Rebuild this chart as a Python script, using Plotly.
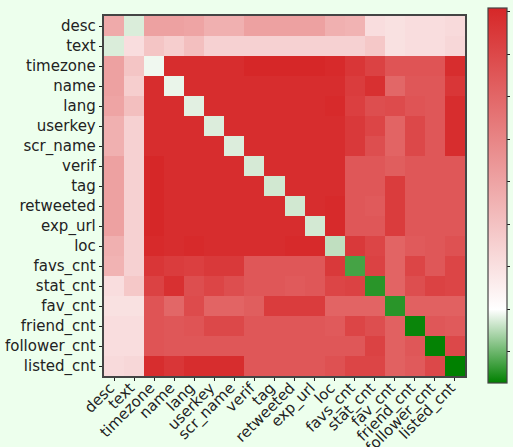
import plotly.graph_objects as go

# Feature names, shared by both axes
features = [
    "desc", "text", "timezone", "name", "lang", "userkey", "scr_name",
    "verif", "tag", "retweeted", "exp_url", "loc", "favs_cnt", "stat_cnt",
    "fav_cnt", "friend_cnt", "follower_cnt", "listed_cnt",
]

# Pairwise score matrix (row = y feature, column = x feature)
scores = [
    [0.48, 0.175, 0.51, 0.51, 0.50, 0.46, 0.46, 0.51, 0.51, 0.51, 0.51, 0.46, 0.45, 0.31, 0.30, 0.31, 0.31, 0.32],
    [0.175, 0.31, 0.39, 0.36, 0.41, 0.35, 0.35, 0.35, 0.35, 0.35, 0.35, 0.35, 0.35, 0.38, 0.30, 0.31, 0.31, 0.33],
    [0.51, 0.39, 0.19, 0.89, 0.89, 0.89, 0.89, 0.91, 0.91, 0.91, 0.91, 0.90, 0.86, 0.82, 0.76, 0.76, 0.76, 0.89],
    [0.51, 0.36, 0.89, 0.186, 0.89, 0.89, 0.89, 0.89, 0.89, 0.89, 0.89, 0.89, 0.84, 0.88, 0.70, 0.75, 0.75, 0.86],
    [0.50, 0.41, 0.89, 0.89, 0.18, 0.89, 0.89, 0.89, 0.89, 0.89, 0.89, 0.90, 0.83, 0.78, 0.79, 0.76, 0.75, 0.89],
    [0.46, 0.35, 0.89, 0.89, 0.89, 0.176, 0.89, 0.89, 0.89, 0.89, 0.89, 0.89, 0.85, 0.81, 0.71, 0.80, 0.75, 0.89],
    [0.46, 0.35, 0.89, 0.89, 0.89, 0.89, 0.176, 0.89, 0.89, 0.89, 0.89, 0.89, 0.85, 0.78, 0.71, 0.80, 0.75, 0.89],
    [0.51, 0.35, 0.91, 0.89, 0.89, 0.89, 0.89, 0.172, 0.89, 0.89, 0.89, 0.89, 0.75, 0.75, 0.73, 0.75, 0.75, 0.75],
    [0.51, 0.35, 0.91, 0.89, 0.89, 0.89, 0.89, 0.89, 0.169, 0.89, 0.89, 0.89, 0.75, 0.75, 0.84, 0.75, 0.75, 0.75],
    [0.51, 0.35, 0.91, 0.89, 0.89, 0.89, 0.89, 0.89, 0.89, 0.169, 0.89, 0.90, 0.75, 0.74, 0.84, 0.75, 0.75, 0.75],
    [0.51, 0.35, 0.91, 0.89, 0.89, 0.89, 0.89, 0.89, 0.89, 0.89, 0.17, 0.90, 0.75, 0.75, 0.84, 0.75, 0.75, 0.75],
    [0.46, 0.35, 0.90, 0.89, 0.90, 0.89, 0.89, 0.89, 0.89, 0.90, 0.90, 0.157, 0.85, 0.81, 0.71, 0.74, 0.75, 0.77],
    [0.45, 0.35, 0.86, 0.84, 0.83, 0.85, 0.85, 0.75, 0.75, 0.75, 0.75, 0.85, 0.074, 0.82, 0.71, 0.81, 0.75, 0.81],
    [0.31, 0.38, 0.82, 0.88, 0.78, 0.81, 0.78, 0.75, 0.75, 0.74, 0.75, 0.81, 0.82, 0.055, 0.71, 0.78, 0.82, 0.81],
    [0.30, 0.30, 0.76, 0.70, 0.79, 0.71, 0.71, 0.73, 0.84, 0.84, 0.84, 0.71, 0.71, 0.71, 0.055, 0.72, 0.72, 0.72],
    [0.31, 0.31, 0.76, 0.75, 0.76, 0.80, 0.80, 0.75, 0.75, 0.75, 0.75, 0.74, 0.81, 0.78, 0.72, 0.034, 0.75, 0.74],
    [0.31, 0.31, 0.76, 0.75, 0.75, 0.75, 0.75, 0.75, 0.75, 0.75, 0.75, 0.75, 0.75, 0.82, 0.72, 0.75, 0.03, 0.80],
    [0.32, 0.33, 0.89, 0.86, 0.89, 0.89, 0.89, 0.75, 0.75, 0.75, 0.75, 0.77, 0.81, 0.81, 0.72, 0.74, 0.80, 0.027],
]

# Colour bar range and tick positions
z_min, z_max = 0.027, 0.909
z_white = 0.2
cbar_ticks = [0.1, 0.2, 0.3, 0.4, 0.5, 0.6, 0.7, 0.8, 0.9]

white_pos = (z_white - z_min) / (z_max - z_min)
colorscale = [
    [0.0, "rgb(0,128,0)"],
    [white_pos, "rgb(255,255,255)"],
    [1.0, "rgb(214,39,40)"],
]

bg = "#edffed"
ink = "#222222"

# plot area geometry in pixels
W, H = 513, 447
left, right, top, bottom = 104, 48, 16, 71
plot_w = W - left - right
plot_h = H - top - bottom

fig = go.Figure(
    go.Heatmap(
        z=scores,
        x=features,
        y=features,
        zmin=z_min,
        zmax=z_max,
        colorscale=colorscale,
        xgap=0,
        ygap=0,
        colorbar=dict(
            x=(488 - left) / plot_w,
            xanchor="left",
            y=(H - bottom - 195.5) / plot_h,
            yanchor="middle",
            len=375,
            lenmode="pixels",
            thickness=19,
            thicknessmode="pixels",
            outlinecolor="#444444",
            outlinewidth=1.2,
            tickvals=cbar_ticks,
            ticks="outside",
            ticklen=3,
            tickcolor=ink,
            showticklabels=False,
            xpad=0,
            ypad=0,
        ),
        hoverongaps=False,
    )
)

axis_common = dict(
    showgrid=False,
    zeroline=False,
    showline=True,
    mirror=True,
    linecolor="#444444",
    linewidth=1.5,
    ticks="outside",
    ticklen=3.5,
    tickwidth=1,
    tickcolor=ink,
    tickmode="array",
    tickvals=features,
    ticktext=features,
    automargin=False,
    tickfont=dict(family="DejaVu Sans", size=15, color=ink),
)

fig.update_layout(
    width=W,
    height=H,
    margin=dict(l=left, r=right, t=top, b=bottom, pad=0, autoexpand=False),
    paper_bgcolor=bg,
    plot_bgcolor=bg,
    xaxis=dict(axis_common, tickangle=-45, ticklabelstandoff=-8, ticklabelshift=-4),
    yaxis=dict(axis_common, autorange="reversed"),
)

fig.write_html("out.html")
